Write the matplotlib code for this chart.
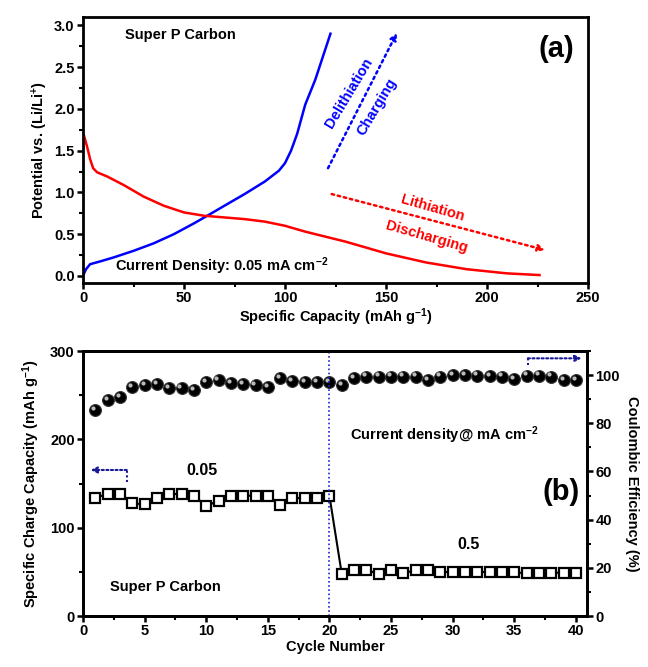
import numpy as np
import matplotlib
matplotlib.use("Agg")
import matplotlib.pyplot as plt
from matplotlib.ticker import MultipleLocator, FormatStrFormatter

plt.rcParams['font.family'] = ['Liberation Sans', 'DejaVu Sans']
plt.rcParams['font.weight'] = 'bold'
plt.rcParams['mathtext.fontset'] = 'custom'
plt.rcParams['mathtext.rm'] = 'Liberation Sans:bold'
plt.rcParams['mathtext.bf'] = 'Liberation Sans:bold'
plt.rcParams['mathtext.default'] = 'rm'

# ---- Panel (a) data ----
charge_cap = [0, 1.5, 3.5, 8, 15, 25, 35, 45, 55, 61.5, 70, 80, 90, 97, 100, 103, 106, 110, 115, 122.5]
charge_pot = [0.0, 0.08, 0.14, 0.17, 0.22, 0.30, 0.39, 0.50, 0.63, 0.72, 0.84, 0.98, 1.13, 1.26, 1.35, 1.50, 1.70, 2.05, 2.35, 2.9]
dis_cap = [0.5, 2, 3.5, 5, 7, 12, 20, 30, 40, 50, 60, 70, 80, 90, 100, 110, 120, 130, 150, 170, 190, 210, 226]
dis_pot = [1.68, 1.55, 1.40, 1.29, 1.24, 1.19, 1.09, 0.95, 0.84, 0.76, 0.72, 0.70, 0.68, 0.65, 0.60, 0.53, 0.47, 0.41, 0.27, 0.16, 0.08, 0.03, 0.01]

# ---- Panel (b) data ----
cycles = list(range(1, 41))
capacity = [133.9, 138.1, 138.1, 127.6, 126.4, 133.9, 138.1, 138.1, 136.2, 124.5,
            130.5, 136.2, 136.2, 136.2, 136.2, 125.7, 133.2, 133.9, 133.9, 135.8,
            47.5, 52.1, 52.1, 47.5, 52.1, 48.3, 52.1, 52.1, 50.2, 49.5,
            49.5, 49.5, 50.2, 50.2, 49.5, 48.3, 48.3, 49.0, 49.0, 49.0]
efficiency = [85.5, 89.7, 90.8, 95.2, 95.9, 96.3, 94.7, 94.7, 93.8, 97.0,
              98.1, 96.8, 96.3, 96.0, 94.9, 98.8, 97.4, 97.0, 97.0, 97.0,
              95.9, 98.8, 99.4, 99.4, 99.4, 99.4, 99.4, 98.1, 99.4, 100.2,
              100.2, 99.8, 99.5, 99.4, 98.4, 99.8, 99.8, 99.4, 98.0, 98.0]

fig = plt.figure(figsize=(6.48, 6.67), dpi=100)

def style_axis(ax):
    for s in ax.spines.values():
        s.set_linewidth(2.0)
    ax.tick_params(which='major', direction='out', length=4, width=1.8, labelsize=10.5, pad=2)
    ax.tick_params(which='minor', direction='out', length=3, width=1.5)
    for lab in ax.get_xticklabels() + ax.get_yticklabels():
        lab.set_fontweight('bold')

# ---------- Panel (a) ----------
ax1 = fig.add_axes([83/648, 1-283/667, (588-83)/648, (283-17)/667])
ax1.plot(charge_cap, charge_pot, color='#0000ff', lw=1.8)
ax1.plot(dis_cap, dis_pot, color='#ff0000', lw=1.8)
ax1.set_xlim(0, 250)
ax1.set_ylim(-0.085, 3.1)
ax1.xaxis.set_major_locator(MultipleLocator(50))
ax1.xaxis.set_minor_locator(MultipleLocator(25))
ax1.yaxis.set_major_locator(MultipleLocator(0.5))
ax1.yaxis.set_minor_locator(MultipleLocator(0.25))
ax1.yaxis.set_major_formatter(FormatStrFormatter('%.1f'))
ax1.tick_params(top=False, right=False, which='both')
style_axis(ax1)
ax1.set_xlabel('Specific Capacity (mAh g$^{-1}$)', fontsize=10.5, fontweight='bold', labelpad=1)
ax1.set_ylabel('Potential vs. (Li/Li$^{+}$)', fontsize=10.5, fontweight='bold', labelpad=3)

ax1.text(20.8, 2.89, 'Super P Carbon', fontsize=10.5, fontweight='bold', va='center', ha='left')
ax1.text(15.8, 0.12, 'Current Density: 0.05 mA cm$^{-2}$', fontsize=10.5, fontweight='bold', va='center', ha='left')
ax1.text(243, 2.72, '(a)', fontsize=21, fontweight='bold', va='center', ha='right')

ax1.annotate('', xy=(155.4, 2.91), xytext=(121.3, 1.29),
             arrowprops=dict(arrowstyle='-|>', color='#0000ff', lw=1.8, ls=(0, (1, 1.5)),
                             mutation_scale=10, shrinkA=0, shrinkB=0))
ax1.text(131.7, 2.19, 'Delithiation', color='#0000ff', fontsize=10.5, fontweight='bold',
         rotation=59, ha='center', va='center', rotation_mode='anchor')
ax1.text(145.4, 2.03, 'Charging', color='#0000ff', fontsize=10.5, fontweight='bold',
         rotation=59, ha='center', va='center', rotation_mode='anchor')
ax1.annotate('', xy=(228.7, 0.31), xytext=(123.1, 0.98),
             arrowprops=dict(arrowstyle='-|>', color='#ff0000', lw=1.8, ls=(0, (1, 1.5)),
                             mutation_scale=10, shrinkA=0, shrinkB=0))
ax1.text(172.9, 0.81, 'Lithiation', color='#ff0000', fontsize=10.5, fontweight='bold',
         rotation=-16, ha='center', va='center', rotation_mode='anchor')
ax1.text(170.1, 0.47, 'Discharging', color='#ff0000', fontsize=10.5, fontweight='bold',
         rotation=-16, ha='center', va='center', rotation_mode='anchor')

# ---------- Panel (b) ----------
ax2 = fig.add_axes([83/648, 1-616/667, (587-83)/648, (616-351)/667])
ax3 = ax2.twinx()
ax2.set_zorder(ax3.get_zorder() + 1)
ax2.patch.set_visible(False)

ax2.plot(cycles, capacity, color='black', lw=1.5, marker='s', ms=7, mfc='white',
         mec='black', mew=1.6)
ax3.plot(cycles, efficiency, ls='none', marker='o', ms=8.5, mfc='black', mec='#333333', mew=0.8)
ax3.plot(cycles, efficiency, ls='none', marker='o', ms=3, mfc='#bbbbbb', mec='none',
         transform=ax3.transData + matplotlib.transforms.ScaledTranslation(-1.5/72, 1.5/72, fig.dpi_scale_trans))

ax2.set_xlim(0, 40.9)
ax2.set_ylim(0, 300)
ax3.set_ylim(0, 110)
ax2.xaxis.set_major_locator(MultipleLocator(5))
ax2.xaxis.set_minor_locator(MultipleLocator(2.5))
ax2.yaxis.set_major_locator(MultipleLocator(100))
ax2.yaxis.set_minor_locator(MultipleLocator(50))
ax3.yaxis.set_major_locator(MultipleLocator(20))
ax3.yaxis.set_minor_locator(MultipleLocator(10))
ax2.tick_params(top=False, right=False, which='both')
style_axis(ax2)
style_axis(ax3)

ax2.axvline(20, color='#2222cc', lw=1.2, ls=(0, (1, 1.5)))

ax2.set_xlabel('Cycle Number', fontsize=10.5, fontweight='bold', labelpad=1)
ax2.set_ylabel('Specific Charge Capacity (mAh g$^{-1}$)', fontsize=10.5, fontweight='bold', labelpad=6)
ax3.set_ylabel('Coulombic Efficiency (%)', fontsize=10.5, fontweight='bold', rotation=-90, labelpad=14)

ax2.text(9.63, 165, '0.05', fontsize=11.5, fontweight='bold', ha='center', va='center')
ax2.text(31.3, 80.4, '0.5', fontsize=11.5, fontweight='bold', ha='center', va='center')
ax2.text(2.2, 33.2, 'Super P Carbon', fontsize=10.5, fontweight='bold', ha='left', va='center')
ax2.text(21.7, 204.9, 'Current density@ mA cm$^{-2}$', fontsize=10.5, fontweight='bold', ha='left', va='center')
ax2.text(40.3, 140.7, '(b)', fontsize=21, fontweight='bold', ha='right', va='center')

navy = '#1a1a99'
ax2.plot([3.55, 3.55], [152, 165.3], color=navy, lw=1.5, ls=(0, (1, 1.2)))
ax2.annotate('', xy=(0.62, 165.3), xytext=(3.55, 165.3),
             arrowprops=dict(arrowstyle='-|>', color=navy, lw=1.5, ls=(0, (1, 1.2)),
                             mutation_scale=9, shrinkA=0, shrinkB=0))
ax2.plot([36.1, 36.1], [284, 291.7], color=navy, lw=1.5, ls=(0, (1, 1.2)))
ax2.annotate('', xy=(40.46, 291.7), xytext=(36.1, 291.7),
             arrowprops=dict(arrowstyle='-|>', color=navy, lw=1.5, ls=(0, (1, 1.2)),
                             mutation_scale=9, shrinkA=0, shrinkB=0))

fig.savefig('out.png', dpi=100)
